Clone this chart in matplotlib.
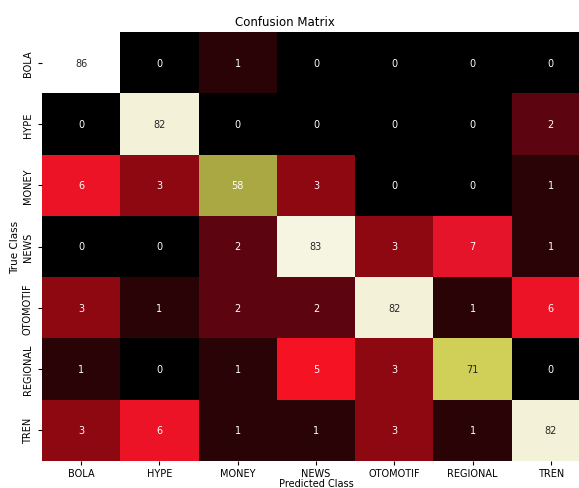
#!/usr/bin/env python3
# encoding: utf-8
import numpy as np
import matplotlib
matplotlib.use('Agg')
import matplotlib.pyplot as plt
import seaborn as sns
from matplotlib.colors import LinearSegmentedColormap

classes = ['BOLA', 'HYPE', 'MONEY', 'NEWS', 'OTOMOTIF', 'REGIONAL', 'TREN']

# rows = true class, cols = predicted class
row_bola = [86, 0, 1, 0, 0, 0, 0]
row_hype = [0, 82, 0, 0, 0, 0, 2]
row_money = [6, 3, 58, 3, 0, 0, 1]
row_news = [0, 0, 2, 83, 3, 7, 1]
row_otomotif = [3, 1, 2, 2, 82, 1, 6]
row_regional = [1, 0, 1, 5, 3, 71, 0]
row_tren = [3, 6, 1, 1, 3, 1, 82]

cm = np.array([row_bola, row_hype, row_money, row_news,
               row_otomotif, row_regional, row_tren])

vmax = 86.0
# colour stops (value, colour)
stops = [(0, '#000000'), (1, '#2a0306'), (2, '#5c0510'), (3, '#8f0812'),
         (5, '#f51222'), (7, '#e5142a'), (58, '#aaa842'), (71, '#d0d058'),
         (82, '#f3f1d8'), (86, '#ffffff')]
cmap = LinearSegmentedColormap.from_list(
    'cm_heat', [(v / vmax, c) for v, c in stops], N=4096)

fig = plt.figure(figsize=(5.79, 4.89), dpi=100)
ax = fig.add_axes([42 / 579, 1 - 462 / 489, 548 / 579, 429 / 489])

sns.heatmap(cm, annot=True, fmt='d', cmap=cmap, vmin=0, vmax=vmax,
            cbar=False, xticklabels=classes, yticklabels=classes,
            annot_kws={'fontsize': 7}, ax=ax)

ax.set_title('Confusion Matrix', fontsize=8.5, x=0.443, pad=5)
ax.set_xlabel('Predicted Class', fontsize=7, labelpad=0)
ax.set_ylabel('True Class', fontsize=7.5, labelpad=2)
ax.tick_params(axis='both', labelsize=7, length=3)
ax.tick_params(axis='x', pad=2)
plt.setp(ax.get_yticklabels(), rotation=90, va='center')
plt.setp(ax.get_xticklabels(), rotation=0)

fig.savefig('out.png', dpi=100)
